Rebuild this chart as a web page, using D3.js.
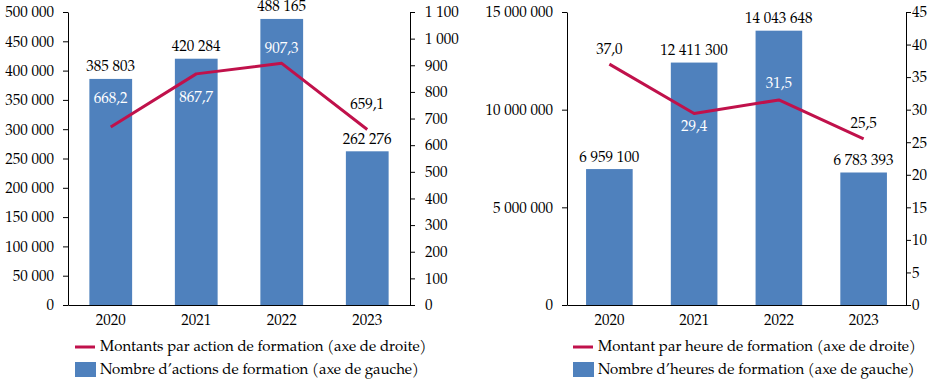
<!DOCTYPE html>
<html><head><meta charset="utf-8">
<script src="https://cdn.jsdelivr.net/npm/d3@7"></script>
<style>
body{margin:0;background:#fff;}
svg text{font-family:"TeX Gyre Pagella","Liberation Serif",serif;font-size:15px;fill:#000;}
</style></head>
<body><svg id="c" width="940" height="387"></svg>
<script>
const years = ["2020","2021","2022","2023"];
// Left chart
const actions = [385803, 420284, 488165, 262276];
const montantsAction = [668.2, 867.7, 907.3, 659.1];
const leftTicksL = [0,50000,100000,150000,200000,250000,300000,350000,400000,450000,500000];
const rightTicksL = [0,100,200,300,400,500,600,700,800,900,1000,1100];
// Right chart
const heures = [6959100, 12411300, 14043648, 6783393];
const montantsHeure = [37.0, 29.4, 31.5, 25.5];
const leftTicksR = [0,5000000,10000000,15000000];
const rightTicksR = [0,5,10,15,20,25,30,35,40,45];

const legendL = ["Montants par action de formation (axe de droite)","Nombre d\u2019actions de formation (axe de gauche)"];
const legendR = ["Montant par heure de formation (axe de droite)","Nombre d\u2019heures de formation (axe de gauche)"];

const BLUE = "#4F81BD", RED = "#C0114B";
const FONT = '"TeX Gyre Pagella","Liberation Serif",serif';
const svg = d3.select("#c");
const fmtInt = v => d3.format(",")(v).replace(/,/g, " ");
const fmtDec = v => v.toFixed(1).replace(".", ",");

function chart(o){
  const g = svg.append("g");
  const x = d3.scaleBand().domain(years).range([o.x0, o.x1]).paddingInner(o.pad).paddingOuter(o.pad/2);
  const yL = d3.scaleLinear().domain([0, o.maxL]).range([305, 12]);
  const yR = d3.scaleLinear().domain([0, o.maxR]).range([305, 12]);

  g.selectAll("rect.bar").data(o.bars).join("rect")
    .attr("x",(d,i)=>x(years[i])).attr("width",x.bandwidth())
    .attr("y",d=>yL(d)).attr("height",d=>305-yL(d)).attr("fill",BLUE);

  const axL = g.append("g").attr("transform",`translate(${o.x0},0)`)
    .call(d3.axisLeft(yL).tickValues(o.ticksL).tickSize(5).tickSizeOuter(0).tickFormat(fmtInt));
  const axR = g.append("g").attr("transform",`translate(${o.x1},0)`)
    .call(d3.axisRight(yR).tickValues(o.ticksR).tickSize(5).tickSizeOuter(0).tickFormat(fmtInt));
  [axL,axR].forEach(a=>{
    a.attr("font-family",FONT).attr("font-size",15);
    a.select(".domain").attr("stroke","#000");
    a.selectAll(".tick line").attr("stroke","#000");
    a.selectAll(".tick text").attr("fill","#000");
  });
  axL.selectAll(".tick text").attr("x",-14);
  axR.selectAll(".tick text").attr("x",o.rOff);
  const axB = g.append("g").attr("transform","translate(0,305)")
    .call(d3.axisBottom(x).tickSize(0).tickSizeOuter(0));
  axB.attr("font-family",FONT).attr("font-size",15);
  axB.select(".domain").attr("stroke","#000");
  axB.selectAll(".tick text").attr("fill","#000").attr("dy","0").attr("y",20);

  const line = d3.line().x((d,i)=>x(years[i])+x.bandwidth()/2).y(d=>yR(d));
  g.append("path").datum(o.line).attr("d",line).attr("fill","none").attr("stroke",RED).attr("stroke-width",3).attr("stroke-linejoin","round");

  g.selectAll("text.bl").data(o.bars).join("text")
    .attr("x",(d,i)=>x(years[i])+x.bandwidth()/2).attr("y",d=>yL(d)-11)
    .attr("text-anchor","middle").attr("dominant-baseline","central").text(fmtInt);
  g.selectAll("text.ll").data(o.line).join("text")
    .attr("x",(d,i)=>x(years[i])+x.bandwidth()/2).attr("y",(d,i)=>yR(d)+o.lOff[i])
    .attr("text-anchor","middle").attr("dominant-baseline","central")
    .style("fill",(d,i)=>o.lWhite[i]?"#fff":"#000").text(fmtDec);

  const lg = g.append("g").attr("transform",`translate(${o.legX},0)`);
  lg.append("line").attr("x1",0).attr("x2",20).attr("y1",347).attr("y2",347).attr("stroke",RED).attr("stroke-width",3);
  lg.append("text").attr("x",25).attr("y",347).attr("dominant-baseline","central").text(o.legend[0]);
  lg.append("rect").attr("x",0).attr("y",362).attr("width",21).attr("height",15).attr("fill",BLUE);
  lg.append("text").attr("x",25).attr("y",370).attr("dominant-baseline","central").text(o.legend[1]);
}

chart({x0:68,x1:410,pad:0.5,maxL:500000,maxR:1100,bars:actions,line:montantsAction,
  ticksL:leftTicksL,ticksR:rightTicksL,rOff:15,
  lOff:[-28,25,-14,-24],lWhite:[true,true,true,false],legX:75,legend:legendL});
chart({x0:567,x1:906,pad:0.45,maxL:15000000,maxR:45,bars:heures,line:montantsHeure,
  ticksL:leftTicksR,ticksR:rightTicksR,rOff:6,
  lOff:[-14,14,-15,-14],lWhite:[false,true,true,false],legX:573,legend:legendR});
</script></body></html>
